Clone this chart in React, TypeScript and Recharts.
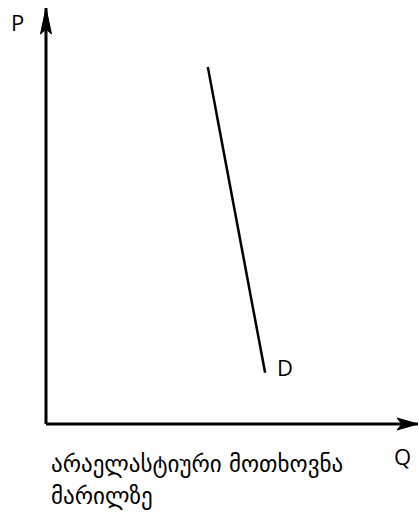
import React from 'react';
import { ComposedChart, Line, Scatter, XAxis, YAxis, ReferenceLine } from 'recharts';

// demand curve D (quantity, price) in axis units 0..100
const demandQ = [43.5, 58.9];
const demandP = [85.8, 12.3];
const demandLabel = 'D';

// axis arrow heads sit at the far end of each axis
const arrowQ = [0, 100];
const arrowP = [100, 0];
const arrowDir = ['up', 'right'];

const axisNames = ['P', 'Q'];
const captionLines = ['არაელასტიური მოთხოვნა', 'მარილზე'];

const demandData = demandQ.map((q, i) => ({ q, p: demandP[i] }));
const arrowData = arrowQ.map((q, i) => ({ q, p: arrowP[i], dir: arrowDir[i] }));

const FONT = "'Open Sans', 'DejaVu Sans', sans-serif";

const ArrowHead = (props: any) => {
  const { cx, cy, payload } = props;
  if (cx == null || cy == null) return null;
  const d =
    payload.dir === 'up'
      ? `M${cx},${cy} L${cx + 5.5},${cy + 26} L${cx},${cy + 21} L${cx - 5.5},${cy + 26} Z`
      : `M${cx},${cy} L${cx - 21},${cy + 6} L${cx - 16},${cy} L${cx - 21},${cy - 6} Z`;
  return <path d={d} fill="#000" stroke="#000" strokeWidth={1} strokeLinejoin="miter" />;
};

const DLabel = (props: any) => {
  const { x, y, index } = props;
  if (index !== demandData.length - 1) return null;
  return (
    <text x={x + 12} y={y + 3} fontSize={22} fontFamily={FONT} fill="#000">
      {demandLabel}
    </text>
  );
};

export default function App() {
  return (
    <div style={{ position: 'absolute', left: 0, top: 0, width: 419, height: 513, background: '#fff', fontFamily: FONT }}>
      <ComposedChart width={419} height={513} margin={{ top: 8, right: 1, bottom: 89, left: 46 }}>
        <XAxis type="number" dataKey="q" domain={[0, 100]} hide />
        <YAxis type="number" dataKey="p" domain={[0, 100]} hide />
        <ReferenceLine x={0} stroke="#000" strokeWidth={3} />
        <ReferenceLine y={0} stroke="#000" strokeWidth={3} />
        <Line
          data={demandData}
          dataKey="p"
          type="linear"
          stroke="#000"
          strokeWidth={2.5}
          dot={false}
          activeDot={false}
          isAnimationActive={false}
          label={<DLabel />}
        />
        <Scatter data={arrowData} dataKey="p" shape={<ArrowHead />} isAnimationActive={false} />
      </ComposedChart>
      <div style={{ position: 'absolute', left: 11, top: 8, fontSize: 22, lineHeight: '28px' }}>{axisNames[0]}</div>
      <div style={{ position: 'absolute', left: 394, top: 442, fontSize: 22, lineHeight: '28px' }}>{axisNames[1]}</div>
      <div style={{ position: 'absolute', left: 51, top: 448, fontSize: 23, lineHeight: '32px', fontFamily: "'DejaVu Sans', sans-serif" }}>
        {captionLines.map((l) => (
          <div key={l} style={{ whiteSpace: 'nowrap' }}>{l}</div>
        ))}
      </div>
    </div>
  );
}
